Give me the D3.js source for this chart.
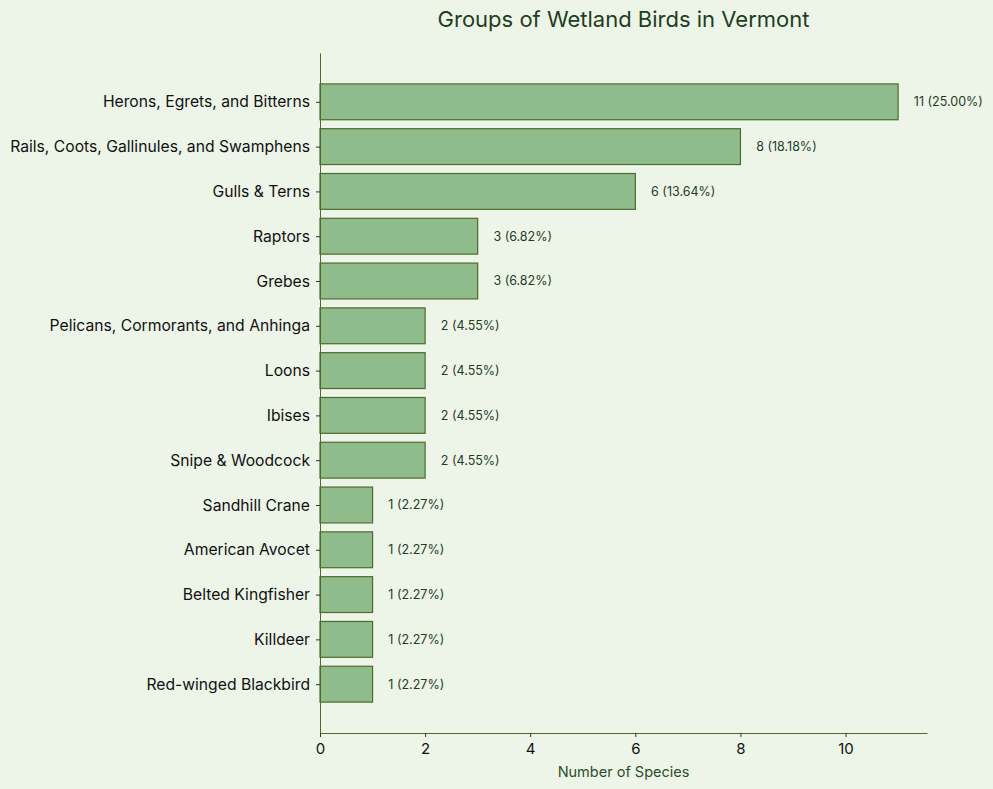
<!DOCTYPE html>
<html>
<head>
<meta charset="utf-8">
<script src="https://cdn.jsdelivr.net/npm/d3@7"></script>
<style>
  html, body { margin: 0; padding: 0; background: #ecf5e8; }
  svg { display: block; font-family: Inter, "Open Sans", sans-serif; }
</style>
</head>
<body>
<svg id="chart" width="993" height="789"></svg>
<script>
let groups = ["Herons, Egrets, and Bitterns", "Rails, Coots, Gallinules, and Swamphens",
    "Gulls & Terns", "Raptors", "Grebes", "Pelicans, Cormorants, and Anhinga", "Loons",
    "Ibises", "Snipe & Woodcock", "Sandhill Crane", "American Avocet",
    "Belted Kingfisher", "Killdeer", "Red-winged Blackbird"];
let counts = [11, 8, 6, 3, 3, 2, 2, 2, 2, 1, 1, 1, 1, 1];
let xTicks = [0, 2, 4, 6, 8, 10];

let total = d3.sum(counts);
let margin = ({top: 53, right: 66, bottom: 56, left: 320});
let width = 993, height = 789;
let font = "Inter, sans-serif";

let svg = d3.select("#chart");
svg.append("rect").attr("width", width).attr("height", height).attr("fill", "#ecf5e8");

let xmax = d3.max(counts) * 1.05;
let x = d3.scaleLinear()
    .domain([0, xmax])
    .range([margin.left, width - margin.right]);

// matplotlib-like: 0.8 wide bars and 5% padding
let n = groups.length;
let y = d3.scaleLinear()
    .domain([-0.4 - 0.69, n - 0.6 + 0.69])
    .range([margin.top, height - margin.bottom]);

let dark = "#4f6b2c";

svg.append("g").selectAll("rect")
    .data(groups)
    .join("rect")
    .attr("x", x(0))
    .attr("y", (d, i) => y(i - 0.4))
    .attr("width", (d, i) => x(counts[i]) - x(0))
    .attr("height", (d, i) => y(i + 0.4) - y(i - 0.4))
    .attr("fill", "#8fbc8b")
    .attr("stroke", dark)
    .attr("stroke-width", 1.2);

svg.append("g").selectAll("text")
    .data(groups)
    .join("text")
    .attr("x", (d, i) => x(counts[i] + 0.3))
    .attr("y", (d, i) => y(i))
    .attr("dy", "0.35em")
    .attr("font-size", 12.5)
    .attr("font-family", font)
    .attr("fill", "#1f3d1f")
    .text((d, i) => `${counts[i]} (${(counts[i] / total * 100).toFixed(2)}%)`);

let x_axis = g => g
    .attr("transform", `translate(0, ${height - margin.bottom})`)
    .call(d3.axisBottom(x).tickValues(xTicks).tickSize(4).tickPadding(6).tickSizeOuter(0))
    .call(g => g.select(".domain").attr("stroke", dark))
    .call(g => g.selectAll(".tick line").attr("stroke", "#333"))
    .call(g => g.selectAll(".tick text").attr("font-size", 15).attr("fill", "#111")
        .attr("font-family", font));

let y_axis = g => g
    .attr("transform", `translate(${margin.left}, 0)`)
    .call(d3.axisLeft(y).tickValues(d3.range(n)).tickFormat(i => groups[i])
        .tickSize(4).tickPadding(6).tickSizeOuter(0))
    .call(g => g.select(".domain").attr("stroke", dark))
    .call(g => g.selectAll(".tick line").attr("stroke", "#333"))
    .call(g => g.selectAll(".tick text").attr("font-size", 15.7).attr("fill", "#111")
        .attr("font-family", font));

svg.append("g").call(x_axis);
svg.append("g").call(y_axis);

svg.append("text")
    .attr("x", (margin.left + width - margin.right) / 2)
    .attr("y", 772)
    .attr("text-anchor", "middle")
    .attr("dy", "0.35em")
    .attr("font-size", 14.5)
    .attr("font-family", font)
    .attr("fill", "#2e4d2a")
    .text("Number of Species");

svg.append("text")
    .attr("x", (margin.left + width - margin.right) / 2)
    .attr("y", 19)
    .attr("text-anchor", "middle")
    .attr("dy", "0.35em")
    .attr("font-size", 22)
    .attr("font-family", font)
    .attr("fill", "#1f3d1f")
    .text("Groups of Wetland Birds in Vermont");
</script>
</body>
</html>
